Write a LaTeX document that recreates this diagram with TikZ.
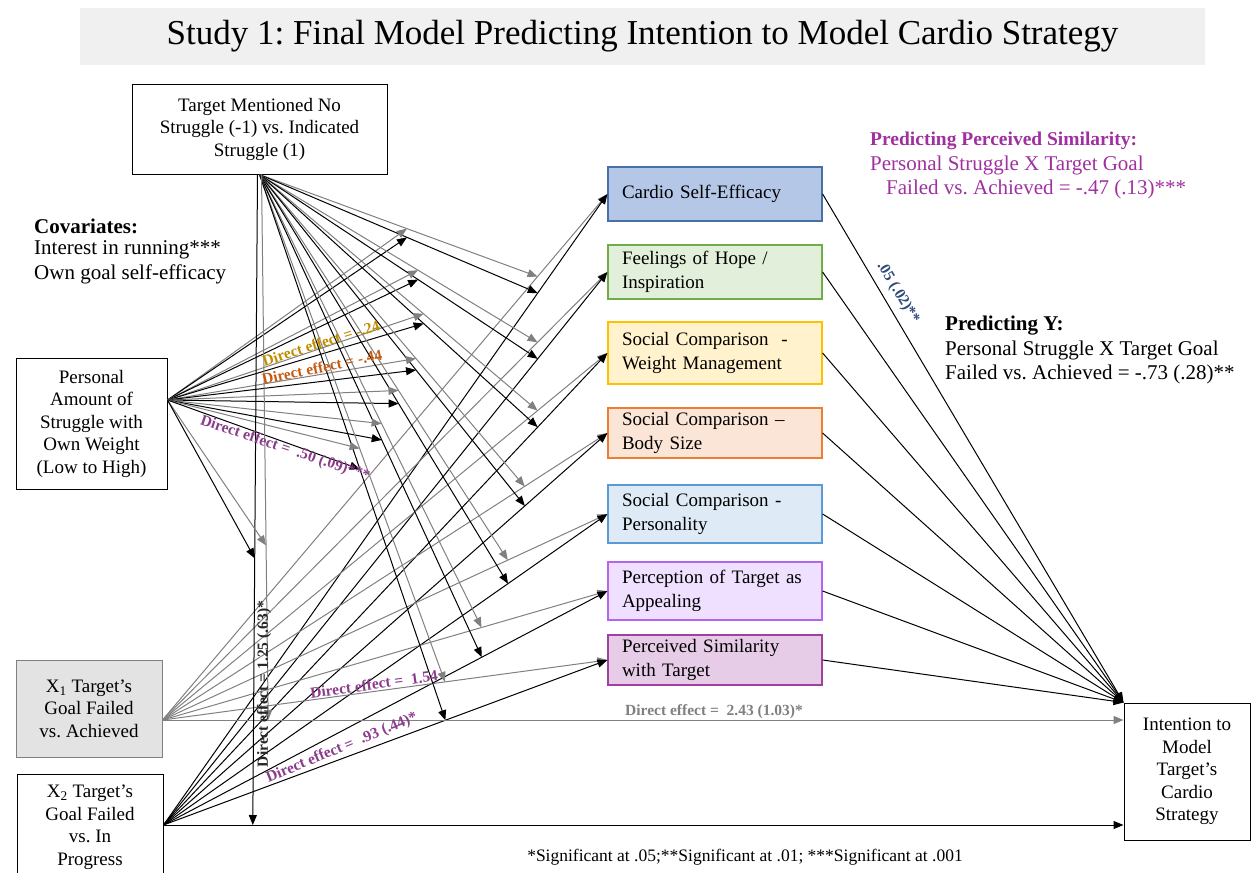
\documentclass[tikz,border=0pt]{standalone}
\usepackage{fontspec}
\setmainfont{Liberation Serif}
\usetikzlibrary{calc,arrows.meta}
\definecolor{linegray}{HTML}{808080}
\definecolor{titlebg}{HTML}{F0F0F0}
\definecolor{xonefill}{HTML}{E3E3E3}
\definecolor{effgold}{HTML}{BF8F00}
\definecolor{effrust}{HTML}{C55A11}
\definecolor{effplum}{HTML}{8A3C8A}
\definecolor{simtext}{HTML}{A030A0}
\definecolor{effnavy}{HTML}{2F4A7A}
\definecolor{cseFill}{HTML}{B4C7E7}\definecolor{cseLine}{HTML}{4A6FA5}
\definecolor{hopeFill}{HTML}{E2EFDA}\definecolor{hopeLine}{HTML}{70AD47}
\definecolor{wgtFill}{HTML}{FFF2CC}\definecolor{wgtLine}{HTML}{FFC000}
\definecolor{bodyFill}{HTML}{FBE5D6}\definecolor{bodyLine}{HTML}{ED7D31}
\definecolor{persFill}{HTML}{DEEBF7}\definecolor{persLine}{HTML}{5B9BD5}
\definecolor{appFill}{HTML}{EFE0FF}\definecolor{appLine}{HTML}{B266F0}
\definecolor{simFill}{HTML}{E6CCE6}\definecolor{simLine}{HTML}{A040A0}
\frenchspacing

\begin{document}
\begin{tikzpicture}[x=1pt,y=-1pt,
  arr/.style={-{Triangle[length=10pt,width=8pt]}},
  blk/.style={draw=black,line width=1pt,arr},
  gry/.style={draw=linegray,line width=1pt,arr},
  box/.style={draw=black,line width=1pt,align=center,inner sep=2pt,
    font=\fontsize{19}{22.5}\selectfont},
  med/.style={line width=1.2pt,align=left,text width=186pt,inner xsep=14pt,
    inner ysep=2pt,font=\fontsize{19}{23.5}\selectfont},
  free/.style={inner sep=0pt,font=\fontsize{21}{24}\selectfont},
  eff/.style={inner sep=0pt,font=\bfseries\fontsize{15.5}{17}\selectfont},
]
\useasboundingbox (0,0) rectangle (1254,873);
\clip (0,0) rectangle (1254,873);

% title bar
\node[fill=titlebg,minimum width=1125pt,minimum height=57pt,inner sep=0pt,
  font=\fontsize{35}{38}\selectfont] (title) at (642.5,36.5)
  {Study 1: Final Model Predicting Intention to Model Cardio Strategy};

% predictors and moderators
\node[box,minimum width=255pt,minimum height=90pt] (mod) at (259.5,129)
  {Target Mentioned No\\Struggle (-1) vs. Indicated\\Struggle (1)};
\node[box,minimum width=151pt,minimum height=131pt] (pers) at (91.5,423.5)
  {Personal\\Amount of\\Struggle with\\Own Weight\\(Low to High)};
\node[box,draw=linegray,fill=xonefill,minimum width=146pt,minimum height=97pt] (x1) at (89,708.5)
  {X\textsubscript{1} Target's\\Goal Failed\\vs. Achieved};
\node[box,minimum width=146pt,minimum height=106pt] (x2) at (90,827)
  {X\textsubscript{2} Target's\\Goal Failed\\vs. In\\Progress};

% mediators
\node[med,draw=cseLine,fill=cseFill,minimum height=54pt] (m1) at (715,194) {Cardio Self-Efficacy};
\node[med,draw=hopeLine,fill=hopeFill,minimum height=54pt] (m2) at (715,272) {Feelings of Hope /\\Inspiration};
\node[med,draw=wgtLine,fill=wgtFill,minimum height=62pt] (m3) at (715,353) {Social Comparison\ \ -\\Weight Management};
\node[med,draw=bodyLine,fill=bodyFill,minimum height=50pt] (m4) at (715,433) {Social Comparison --\\Body Size};
\node[med,draw=persLine,fill=persFill,minimum height=58pt] (m5) at (715,514) {Social Comparison -\\Personality};
\node[med,draw=appLine,fill=appFill,minimum height=58pt] (m6) at (715,591) {Perception of Target as\\Appealing};
\node[med,draw=simLine,fill=simFill,minimum height=50pt] (m7) at (715,660) {Perceived Similarity\\with Target};

% outcome
\node[box,minimum width=126pt,minimum height=137pt] (out) at (1187,771.5)
  {Intention to\\Model\\Target's\\Cardio\\Strategy};

% path origins
\coordinate (ps) at ([yshift=23.5pt]pers.east);
\coordinate (x1s) at ([yshift=-11.5pt]x1.east);
\coordinate (x2s) at ([yshift=2pt]x2.east);

% X -> mediator paths, moderated by the target's struggle, in turn moderated by personal struggle
\foreach \m/\t/\s in {m1/0.843/0.53, m2/0.843/0.57, m3/0.843/0.59, m4/0.814/0.59,
                      m5/0.776/0.56, m6/0.717/0.55, m7/0.635/0.54}{
  \draw[gry] (x1s) -- (\m.west);
  \draw[blk] (x2s) -- (\m.west);
  \coordinate (g\m) at ($(x1s)!\t!(\m.west)$);
  \coordinate (b\m) at ($(x2s)!\t!(\m.west)$);
  \draw[gry] (mod.south) -- (g\m);
  \draw[blk] (mod.south) -- (b\m);
  \draw[gry] (ps) -- ($(mod.south)!\s!(g\m)$);
  \draw[blk] (ps) -- ($(mod.south)!\s!(b\m)$);
  \draw[blk] (\m.east) -- (out.north west);
}

% direct paths to the outcome
\draw[gry] (x1s) -- (x1s -| out.west);
\draw[blk] (x2s) -- (x2s -| out.west);
\coordinate (dyg) at ($(x1s)!0.11!(x1s -| out.west)$);
\coordinate (dyb) at ($(x2s)!0.093!(x2s -| out.west)$);
\draw[gry] ([xshift=2pt]mod.south) -- (dyg);
\draw[blk] ([xshift=-2pt]mod.south) -- (dyb);
\draw[gry] (ps) -- ($([xshift=2pt]mod.south)!0.68!(dyg)$);
\draw[blk] (ps) -- ($([xshift=-2pt]mod.south)!0.59!(dyb)$);

% side notes
\node[free,anchor=west,font=\bfseries\fontsize{21}{24}\selectfont] (covh) at (34,226) {Covariates:};
\node[free,anchor=west] (cov1) at (34,250) {Interest in running***};
\node[free,anchor=west] (cov2) at (34,274) {Own goal self-efficacy};

\node[free,anchor=west,text=simtext,font=\bfseries\fontsize{19.5}{23}\selectfont] (simh) at (870,141) {Predicting Perceived Similarity:};
\node[free,anchor=west,text=simtext] (sim1) at (870,165) {Personal Struggle X Target Goal};
\node[free,anchor=west,text=simtext] (sim2) at (886,189) {Failed vs. Achieved = -.47 (.13)***};

\node[free,anchor=west,font=\bfseries\fontsize{21}{24}\selectfont] (yh) at (945,326) {Predicting Y:};
\node[free,anchor=west] (y1) at (945,350) {Personal Struggle X Target Goal};
\node[free,anchor=west] (y2) at (945,374) {Failed vs. Achieved = -.73 (.28)**};

\node[free,font=\fontsize{17.5}{20}\selectfont] (foot) at (745,857)
  {*Significant at .05;**Significant at .01; ***Significant at .001};

% effect labels
\node[eff,text=effgold,rotate=17.5] (e1) at (321,343) {Direct effect = -.24};
\node[eff,text=effrust,rotate=12] (e2) at (322,367) {Direct effect = -.44};
\node[eff,text=effplum,rotate=-18.5] (e3) at (285,449) {Direct effect = \ .50 (.09)***};
\node[eff,text=effplum,rotate=8] (e4) at (374,684) {Direct effect = \ 1.54};
\node[eff,text=effplum,rotate=22.6] (e5) at (342,748) {Direct effect = \ .93 (.44)*};
\node[eff,text=black!85,rotate=90] (e6) at (264,684) {Direct effect = 1.25 (.63)*};
\node[eff,text=linegray] (e7) at (714,712) {Direct effect = \ 2.43 (1.03)*};
\node[eff,text=effnavy,rotate=-59] (e8) at (898,293) {.05 (.02)**};
\end{tikzpicture}
\end{document}
